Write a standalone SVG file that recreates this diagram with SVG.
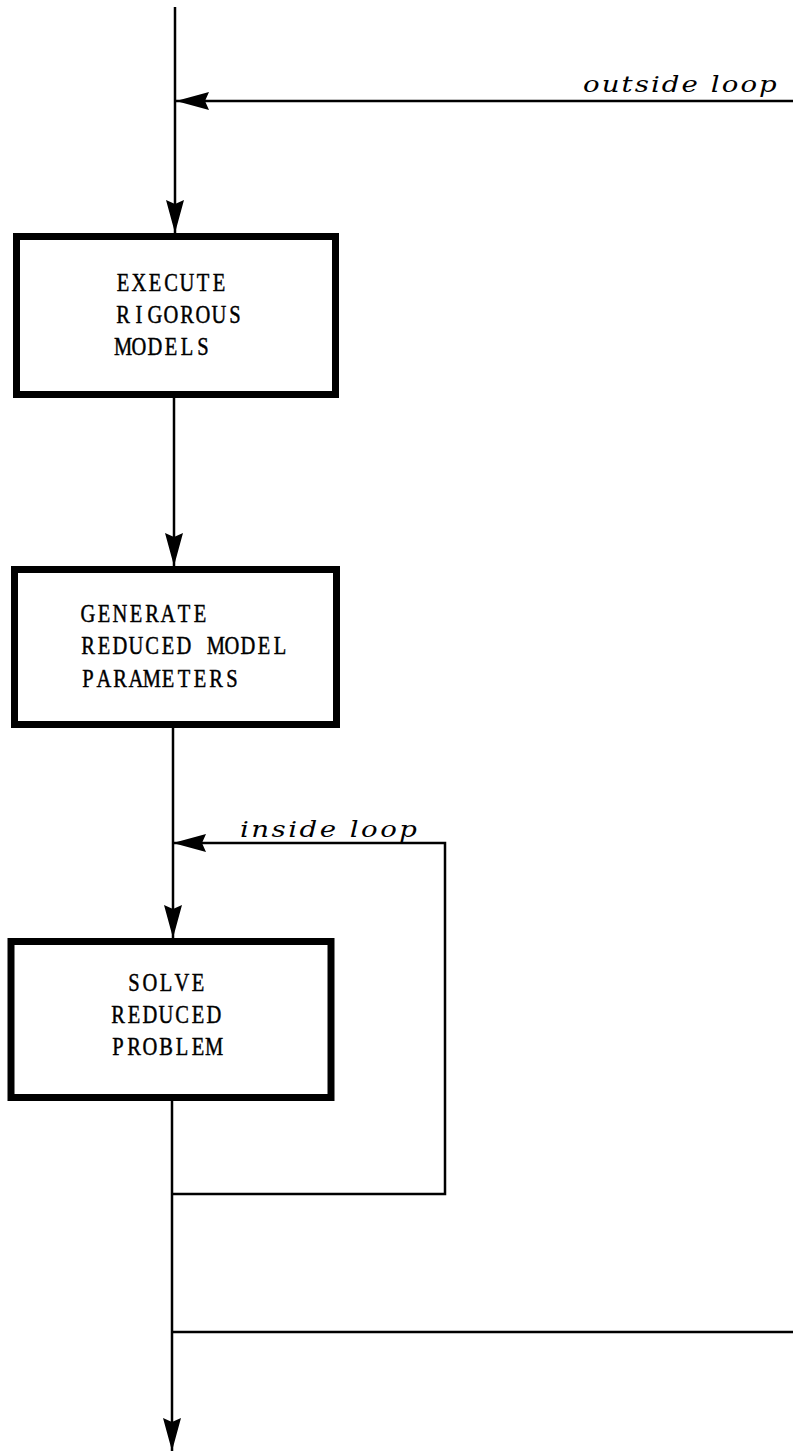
<svg xmlns="http://www.w3.org/2000/svg" width="793" height="1452" viewBox="0 0 793 1452">
  <style>
    .box { fill: #ffffff; stroke: #000000; stroke-width: 7; stroke-linejoin: miter; }
    .lbl { font-family: "Liberation Serif", "Times New Roman", serif; font-size: 25px; fill: #000000; stroke: #000000; stroke-width: 0.45; text-anchor: middle; }
    .wire { fill: none; stroke: #000000; stroke-width: 2.5; }
    .loop { font-family: "DejaVu Serif", "Liberation Serif", serif; font-style: italic; font-size: 23px; fill: #000000; }
  </style>
  <defs>
    <marker id="arrow" viewBox="-35 -11 37 22" refX="0" refY="0" markerWidth="37" markerHeight="22" markerUnits="userSpaceOnUse" orient="auto">
      <path d="M0,0 L-33,-9 L-29,0 L-33,9 Z" fill="#000000"/>
    </marker>
  </defs>
  <rect width="793" height="1452" fill="#ffffff"/>

  <!-- flow lines and loop-back paths -->
  <g id="connectors">
    <path class="wire" d="M175,7 V233" marker-end="url(#arrow)"/>
    <path class="wire" d="M793,101 H176" marker-end="url(#arrow)"/>
    <path class="wire" d="M174,398 V566" marker-end="url(#arrow)"/>
    <path class="wire" d="M173,728 V938" marker-end="url(#arrow)"/>
    <path class="wire" d="M172,1194 H445 V843 H173" marker-end="url(#arrow)"/>
    <path class="wire" d="M172,1101 V1451" marker-end="url(#arrow)"/>
    <path class="wire" d="M171,1332 H793"/>
    <!-- loop labels, glyphs widened 1.2x -->
    <text class="loop" transform="translate(583,92) scale(1.2,1)" x="0" y="0" textLength="161.5" lengthAdjust="spacing">outside loop</text>
    <text class="loop" transform="translate(240,837) scale(1.2,1)" x="0" y="0" textLength="147.5" lengthAdjust="spacing">inside loop</text>
  </g>

  <!-- box labels: typewriter-style fixed 16px pitch, glyphs condensed to 82% -->
  <g id="execute-rigorous-models">
    <rect class="box" x="16.5" y="236.5" width="319" height="158"/>
    <text class="lbl" transform="translate(115,291) scale(0.82,1)" x="9.76 29.27 48.78 68.29 87.80 107.32 126.83" y="0">EXECUTE</text>
    <text class="lbl" transform="translate(115,323) scale(0.82,1)" x="9.76 29.27 48.78 68.29 87.80 107.32 126.83 146.34" y="0">RIGOROUS</text>
    <text class="lbl" transform="translate(115,355) scale(0.82,1)" x="9.76 29.27 48.78 68.29 87.80 107.32" y="0">MODELS</text>
  </g>

  <g id="generate-reduced-model-parameters">
    <rect class="box" x="14.5" y="569.5" width="322" height="155"/>
    <text class="lbl" transform="translate(80,622) scale(0.82,1)" x="9.76 29.27 48.78 68.29 87.80 107.32 126.83 146.34" y="0">GENERATE</text>
    <text class="lbl" transform="translate(80,654) scale(0.82,1)" x="9.76 29.27 48.78 68.29 87.80 107.32 126.83 146.34 165.85 185.37 204.88 224.39 243.90" y="0">REDUCED MODEL</text>
    <text class="lbl" transform="translate(80,687) scale(0.82,1)" x="9.76 29.27 48.78 68.29 87.80 107.32 126.83 146.34 165.85 185.37" y="0">PARAMETERS</text>
  </g>

  <g id="solve-reduced-problem">
    <rect class="box" x="11" y="941.5" width="320" height="156"/>
    <text class="lbl" transform="translate(126,991) scale(0.82,1)" x="9.76 29.27 48.78 68.29 87.80" y="0">SOLVE</text>
    <text class="lbl" transform="translate(110,1023) scale(0.82,1)" x="9.76 29.27 48.78 68.29 87.80 107.32 126.83" y="0">REDUCED</text>
    <text class="lbl" transform="translate(110,1055) scale(0.82,1)" x="9.76 29.27 48.78 68.29 87.80 107.32 126.83" y="0">PROBLEM</text>
  </g>
</svg>
